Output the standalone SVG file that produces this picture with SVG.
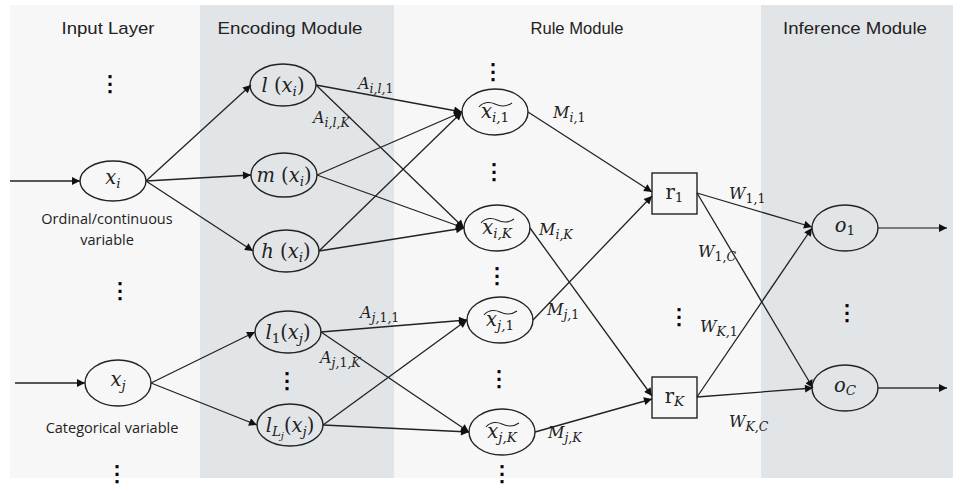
<svg xmlns="http://www.w3.org/2000/svg" width="969" height="491" viewBox="0 0 969 491">
<style>
.bg{fill:#f7f7f7}
.band{fill:#e2e5e8}
.hdr{font-family:"Liberation Sans Narrow","Liberation Sans",Arial,sans-serif;font-size:17px;fill:#222;text-anchor:middle}
.nd{fill:none;stroke:#222;stroke-width:1.4}
.m{font-family:"DejaVu Serif","Liberation Serif",serif;font-style:italic;font-size:19.5px;fill:#222;text-anchor:middle}
.m .sub{font-size:13.5px}
.up{font-style:normal}
.el{font-family:"DejaVu Serif","Liberation Serif",serif;font-style:italic;font-size:16px;fill:#222}
.sub{font-size:12.5px}
.lab{font-family:"Open Sans","Noto Sans",sans-serif;font-size:14.5px;fill:#222;text-anchor:middle}
.dots{font-family:"DejaVu Sans",sans-serif;font-size:22px;fill:#000;text-anchor:middle;stroke:#000;stroke-width:0.6}
.ea{stroke:#222;stroke-width:1.3;fill:none;marker-end:url(#arr)}
.tl{fill:none;stroke:#222;stroke-width:1.1}
</style>
<defs>
<marker id="arr" viewBox="0 0 10 10" refX="10" refY="5" markerWidth="11" markerHeight="8" markerUnits="userSpaceOnUse" orient="auto">
<path d="M0,0 L10,5 L0,10 z" fill="#111"/>
</marker>
</defs>
<rect class="bg" x="10" y="5" width="943" height="473"/>
<rect class="band" x="200" y="5" width="194" height="473"/>
<rect class="band" x="761" y="5" width="192" height="473"/>
<text class="hdr" x="108" y="34" textLength="93" lengthAdjust="spacingAndGlyphs">Input Layer</text>
<text class="hdr" x="290" y="34" textLength="145" lengthAdjust="spacingAndGlyphs">Encoding Module</text>
<text class="hdr" x="577" y="34" textLength="93" lengthAdjust="spacingAndGlyphs">Rule Module</text>
<text class="hdr" x="855" y="34" textLength="144" lengthAdjust="spacingAndGlyphs">Inference Module</text>

<g id="connectors">
<line class="ea" x1="10" y1="181" x2="80" y2="181"/>
<line class="ea" x1="15" y1="383" x2="85" y2="383"/>
<line class="ea" x1="146" y1="181" x2="251" y2="85"/>
<line class="ea" x1="146" y1="181" x2="251" y2="175"/>
<line class="ea" x1="146" y1="181" x2="253" y2="251"/>
<line class="ea" x1="151" y1="383" x2="255" y2="332"/>
<line class="ea" x1="151" y1="383" x2="257" y2="425"/>
<line class="ea" x1="316" y1="85" x2="462" y2="112"/>
<line class="ea" x1="316" y1="85" x2="464" y2="228"/>
<line class="ea" x1="317" y1="175" x2="462" y2="112"/>
<line class="ea" x1="317" y1="175" x2="464" y2="228"/>
<line class="ea" x1="319" y1="251" x2="462" y2="112"/>
<line class="ea" x1="319" y1="251" x2="464" y2="228"/>
<line class="ea" x1="321" y1="332" x2="467" y2="320"/>
<line class="ea" x1="321" y1="332" x2="469" y2="432"/>
<line class="ea" x1="323" y1="425" x2="467" y2="320"/>
<line class="ea" x1="323" y1="425" x2="469" y2="432"/>
<line class="ea" x1="528" y1="112" x2="652" y2="192"/>
<line class="ea" x1="530" y1="228" x2="652" y2="396"/>
<line class="ea" x1="533" y1="320" x2="652" y2="196"/>
<line class="ea" x1="535" y1="432" x2="652" y2="399"/>
<line class="ea" x1="697" y1="193" x2="812" y2="227"/>
<line class="ea" x1="697" y1="193" x2="813" y2="388"/>
<line class="ea" x1="697" y1="397" x2="812" y2="228"/>
<line class="ea" x1="697" y1="397" x2="813" y2="388"/>
<line class="ea" x1="878" y1="228" x2="947" y2="228" style="stroke:#555"/>
<line class="ea" x1="878" y1="388" x2="947" y2="388" style="stroke:#333"/>
<text class="el" x="358" y="89">A<tspan class="sub" dy="4">i,l,</tspan><tspan class="sub up">1</tspan></text>
<text class="el" x="313" y="123">A<tspan class="sub" dy="4">i,l,K</tspan></text>
<text class="el" x="360" y="318">A<tspan class="sub" dy="4">j,</tspan><tspan class="sub up">1</tspan><tspan class="sub">,</tspan><tspan class="sub up">1</tspan></text>
<text class="el" x="320" y="363">A<tspan class="sub" dy="4">j,</tspan><tspan class="sub up">1</tspan><tspan class="sub">,K</tspan></text>
<text class="el" x="553" y="118">M<tspan class="sub" dy="4">i,</tspan><tspan class="sub up">1</tspan></text>
<text class="el" x="539" y="235">M<tspan class="sub" dy="4">i,K</tspan></text>
<text class="el" x="547" y="315">M<tspan class="sub" dy="4">j,</tspan><tspan class="sub up">1</tspan></text>
<text class="el" x="548" y="438">M<tspan class="sub" dy="4">j,K</tspan></text>
<text class="el" x="729" y="199">W<tspan class="sub up" dy="4">1,1</tspan></text>
<text class="el" x="698" y="257">W<tspan class="sub up" dy="4">1,</tspan><tspan class="sub">C</tspan></text>
<text class="el" x="700" y="332">W<tspan class="sub" dy="4">K,</tspan><tspan class="sub up">1</tspan></text>
<text class="el" x="729" y="427">W<tspan class="sub" dy="4">K,C</tspan></text>
</g>

<g id="n-xi" transform="translate(113,181)">
<ellipse class="nd" rx="33" ry="20"/>
<text class="m" y="3">x<tspan class="sub" dy="4">i</tspan></text>
</g>
<g id="n-xj" transform="translate(118,383)">
<ellipse class="nd" rx="33" ry="23"/>
<text class="m" y="3">x<tspan class="sub" dy="4">j</tspan></text>
</g>
<text class="lab" x="107" y="224">Ordinal/continuous</text>
<text class="lab" x="107" y="245">variable</text>
<text class="lab" x="112" y="433">Categorical variable</text>

<g id="n-lxi" transform="translate(283,85)">
<ellipse class="nd" rx="33" ry="21"/>
<text class="m" y="7">l <tspan class="up">(</tspan>x<tspan class="sub" dy="4">i</tspan><tspan class="up" dy="-4">)</tspan></text>
</g>
<g id="n-mxi" transform="translate(284,175)">
<ellipse class="nd" rx="33" ry="22"/>
<text class="m" y="7">m <tspan class="up">(</tspan>x<tspan class="sub" dy="4">i</tspan><tspan class="up" dy="-4">)</tspan></text>
</g>
<g id="n-hxi" transform="translate(286,251)">
<ellipse class="nd" rx="33" ry="21"/>
<text class="m" y="7">h <tspan class="up">(</tspan>x<tspan class="sub" dy="4">i</tspan><tspan class="up" dy="-4">)</tspan></text>
</g>
<g id="n-l1xj" transform="translate(288,332)">
<ellipse class="nd" rx="33" ry="21"/>
<text class="m" y="7">l<tspan class="sub up" dy="4">1</tspan><tspan class="up" dy="-4">(</tspan>x<tspan class="sub" dy="4">j</tspan><tspan class="up" dy="-4">)</tspan></text>
</g>
<g id="n-lLxj" transform="translate(290,425)">
<ellipse class="nd" rx="33" ry="21"/>
<text class="m" y="7">l<tspan class="sub" dy="4">L<tspan font-size="10" dy="3">j</tspan></tspan><tspan class="up" dy="-7">(</tspan>x<tspan class="sub" dy="4">j</tspan><tspan class="up" dy="-4">)</tspan></text>
</g>

<g id="n-xi1" transform="translate(495,112)">
<ellipse class="nd" rx="33" ry="23"/>
<path class="tl" d="M-16,-5 C-11,-11 -4,-10 0,-8 S10,-4 17,-9"/>
<text class="m" y="6">x<tspan class="sub" dy="4">i,</tspan><tspan class="sub up">1</tspan></text>
</g>
<g id="n-xiK" transform="translate(497,228)">
<ellipse class="nd" rx="33" ry="23"/>
<path class="tl" d="M-16,-5 C-11,-11 -4,-10 0,-8 S10,-4 17,-9"/>
<text class="m" y="6">x<tspan class="sub" dy="4">i,K</tspan></text>
</g>
<g id="n-xj1" transform="translate(500,320)">
<ellipse class="nd" rx="33" ry="23"/>
<path class="tl" d="M-16,-5 C-11,-11 -4,-10 0,-8 S10,-4 17,-9"/>
<text class="m" y="6">x<tspan class="sub" dy="4">j,</tspan><tspan class="sub up">1</tspan></text>
</g>
<g id="n-xjK" transform="translate(502,432)">
<ellipse class="nd" rx="33" ry="23"/>
<path class="tl" d="M-16,-5 C-11,-11 -4,-10 0,-8 S10,-4 17,-9"/>
<text class="m" y="6">x<tspan class="sub" dy="4">j,K</tspan></text>
</g>

<g id="n-r1">
<rect class="nd" x="652" y="173" width="45" height="41"/>
<text class="m up" x="674.5" y="199">r<tspan class="sub" dy="3">1</tspan></text>
</g>
<g id="n-rK">
<rect class="nd" x="652" y="377" width="45" height="41"/>
<text class="m up" x="674.5" y="403">r<tspan class="sub" dy="3" style="font-style:italic">K</tspan></text>
</g>

<g id="n-o1" transform="translate(845,228)">
<ellipse class="nd" rx="33" ry="23"/>
<text class="m" y="4">o<tspan class="sub up" dy="3">1</tspan></text>
</g>
<g id="n-oC" transform="translate(845,388)">
<ellipse class="nd" rx="33" ry="23"/>
<text class="m" y="4">o<tspan class="sub" dy="3">C</tspan></text>
</g>

<g id="ellipses">
<text class="dots" x="110" y="91">⋮</text>
<text class="dots" x="120" y="298">⋮</text>
<text class="dots" x="117" y="481">⋮</text>
<text class="dots" x="287" y="388">⋮</text>
<text class="dots" x="493" y="79">⋮</text>
<text class="dots" x="494" y="179">⋮</text>
<text class="dots" x="497" y="283">⋮</text>
<text class="dots" x="499" y="386">⋮</text>
<text class="dots" x="502" y="481">⋮</text>
<text class="dots" x="679" y="324">⋮</text>
<text class="dots" x="847" y="320">⋮</text>
</g>
</svg>
